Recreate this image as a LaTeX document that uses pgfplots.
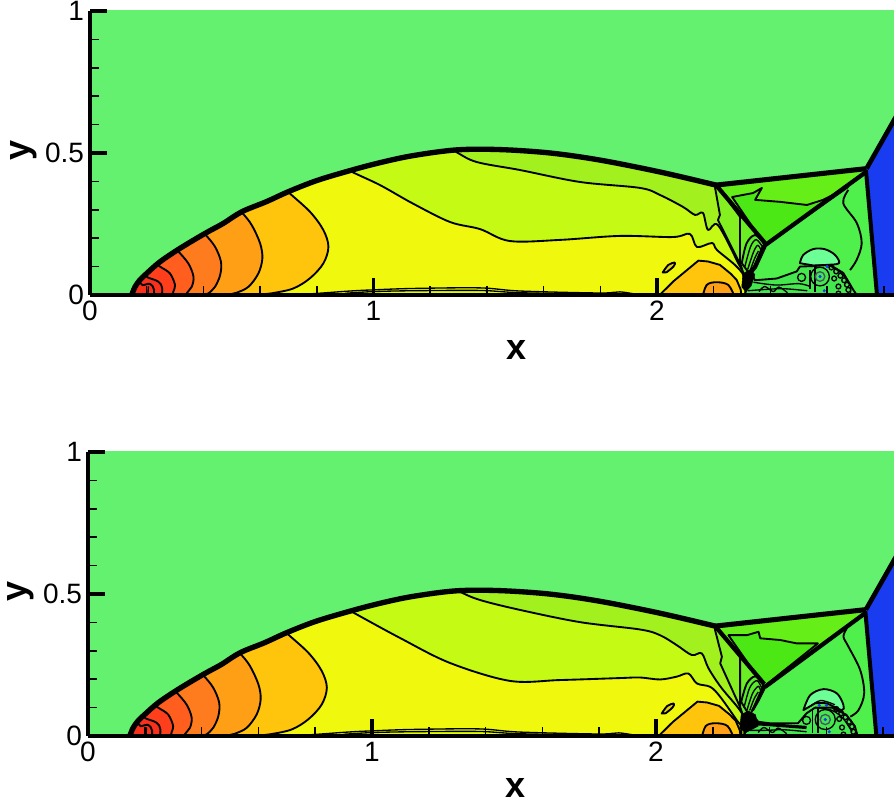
\documentclass[border=0pt]{standalone}
\usepackage{fontspec}
\setmainfont{Liberation Sans}
\usepackage{pgfplots}
\pgfplotsset{compat=1.18}
\definecolor{bgg}{HTML}{64F170}
\definecolor{blu}{HTML}{1A3CF0}
\definecolor{lowg}{HTML}{50F04C}
\definecolor{lowr}{HTML}{5CF246}
\definecolor{ca}{HTML}{A2F01E}
\definecolor{cb}{HTML}{C4FA14}
\definecolor{cc}{HTML}{F0F80E}
\definecolor{r1}{HTML}{FFC40C}
\definecolor{r2}{HTML}{FF9F16}
\definecolor{r3}{HTML}{FF7C1E}
\definecolor{r4}{HTML}{FF5E1E}
\definecolor{r5}{HTML}{FF3E1C}
\definecolor{r6}{HTML}{F8301C}
\definecolor{fa}{HTML}{84F022}
\definecolor{fb}{HTML}{6CEE24}
\definecolor{fc}{HTML}{58EA2A}
\definecolor{tu}{HTML}{66EE18}
\definecolor{tl}{HTML}{4CE816}
\definecolor{lobe}{HTML}{6CFF96}
\definecolor{mush}{HTML}{44E84E}
\definecolor{lens}{HTML}{E0D010}
\pgfplotsset{
  panel/.style={
    scale only axis, anchor=south west, axis on top,
    xmin=0, ymin=0, ymax=1,
    axis lines=left, axis line style={-, line width=2.6pt},
    tick align=inside,
    xtick={0,1,2}, xticklabels={0,1,2},
    ytick={0,0.5,1}, yticklabels={0,0.5,1},
    minor xtick={0.2,0.4,0.6,0.8,1.2,1.4,1.6,1.8,2.2,2.4,2.6,2.8},
    minor ytick={0.1,0.2,0.3,0.4,0.6,0.7,0.8,0.9},
    major tick length=13pt, minor tick length=7pt,
    every major tick/.style={black,line width=2.6pt},
    every minor tick/.style={black,line width=1.1pt},
    tick label style={font=\fontsize{21}{25}\selectfont, /pgf/number format/assume math mode=true},
    xticklabel style={yshift=-1pt}, yticklabel style={xshift=-1pt},
    xlabel={x}, ylabel={y},
    every axis x label/.style={at={(axis description cs:0.53,-0.195)},anchor=center,inner sep=0pt,font=\fontsize{27}{27}\selectfont\bfseries},
    every axis y label/.style={at={(axis description cs:-0.083,0.51)},rotate=90,anchor=center,inner sep=0pt,font=\fontsize{27}{27}\selectfont\bfseries},
  },
  ct/.style={draw=black,line width=1.4pt,line join=round},
  sm/.style={smooth,tension=0.55},
  tn/.style={draw=black,line width=1pt,line join=round,no marks},
  ring/.style={only marks,mark=o,mark options={draw=black,line width=1pt}},
}
\newcommand\base{
  \addplot[fill=lowg,draw=none] coordinates {(0,-0.02)(3,-0.02)(3,1.1)(0,1.1)} -- cycle;
  \addplot[fill=ca,draw=none] coordinates {(0,-0.01)(0,0.6)(2.208,0.6)(2.208,0.387)(2.381,0.183)(2.31,0.05)(2.31,-0.01)} -- cycle;
}
\newcommand\common{
  \addplot[fill=cb!35!cc,draw=none] coordinates {(0.741,0)(0.917,0.014)(0.998,0.018)(1.139,0.023)(1.376,0.025)(1.517,0.014)(1.799,0.007)(1.869,0.011)(1.94,0)} -- cycle;
  \addplot[tn,sm] coordinates {(0.6,0)(0.741,0.002)(0.917,0.014)(0.998,0.018)(1.139,0.023)(1.376,0.025)(1.517,0.014)(1.799,0.007)(1.869,0.011)(1.94,0)};
  \addplot[tn,sm] coordinates {(0.9,0.006)(1.0,0.012)(1.139,0.015)(1.376,0.016)(1.517,0.008)(1.8,0.003)};
  \addplot[fill=lens,ct,sm] coordinates {(2.020,0.079)(2.040,0.106)(2.063,0.114)(2.058,0.100)(2.034,0.080)} -- cycle;
  \addplot[fill=r1,ct] coordinates {(1.999,-0.01)(2.06,0.05)(2.146,0.121)(2.18,0.118)(2.222,0.106)(2.26,0.075)(2.281,0.053)(2.295,0.02)(2.299,-0.01)} -- cycle;
  \addplot[fill=r2,ct,sm] coordinates {(2.160,-0.01)(2.175,0.035)(2.210,0.045)(2.252,0.035)(2.275,-0.01)} -- cycle;
  \addplot[fill=r1,ct,sm] coordinates {(0.4,-0.03)(0,0.1)(0.4,0.6)(0.67,0.393)(0.700,0.362)(0.776,0.293)(0.823,0.229)(0.841,0.170)(0.823,0.111)(0.776,0.059)(0.717,0.023)(0.641,0.006)(0.576,-0.002)(0.5,-0.03)} -- cycle;
  \addplot[fill=r2,ct,sm] coordinates {(0.3,-0.03)(0,0.1)(0.3,0.5)(0.5,0.32)(0.535,0.291)(0.570,0.247)(0.600,0.182)(0.608,0.129)(0.594,0.076)(0.559,0.029)(0.517,0.008)(0.482,-0.002)(0.45,-0.03)} -- cycle;
  \addplot[fill=r3,ct,sm] coordinates {(0.2,-0.03)(0,0.1)(0.2,0.4)(0.38,0.24)(0.406,0.214)(0.441,0.170)(0.462,0.117)(0.459,0.070)(0.441,0.029)(0.418,0.006)(0.400,-0.002)(0.39,-0.03)} -- cycle;
  \addplot[fill=r4,ct,sm] coordinates {(0.15,-0.03)(0,0.1)(0.15,0.3)(0.29,0.175)(0.312,0.153)(0.347,0.111)(0.365,0.065)(0.359,0.029)(0.341,0.006)(0.33,-0.03)} -- cycle;
  \addplot[fill=r5,ct,sm] coordinates {(0.12,-0.03)(0.05,0.1)(0.12,0.22)(0.23,0.115)(0.247,0.100)(0.282,0.076)(0.300,0.035)(0.294,0.012)(0.288,-0.03)} -- cycle;
  \addplot[fill=r6,ct,sm] coordinates {(0.12,-0.03)(0.08,0.06)(0.12,0.14)(0.195,0.07)(0.206,0.061)(0.241,0.047)(0.255,0.023)(0.249,-0.03)} -- cycle;
  \addplot[fill=r6,ct,sm] coordinates {(0.13,-0.03)(0.1,0.04)(0.13,0.09)(0.18,0.04)(0.188,0.035)(0.212,0.039)(0.226,0.018)(0.221,-0.03)} -- cycle;
  \addplot[tn] coordinates {(0.206,0.03)(0.204,0)};
  \addplot[fill=bgg,draw=none] coordinates {(-0.05,-0.05)(0.135,-0.05)(0.147,0.003)(0.159,0.029)(0.176,0.053)(0.200,0.076)(0.247,0.117)(0.317,0.164)(0.406,0.217)(0.470,0.252)(0.535,0.293)(0.623,0.329)(0.700,0.364)(0.800,0.403)(0.917,0.438)(1.023,0.466)(1.141,0.491)(1.294,0.511)(1.446,0.512)(1.623,0.500)(1.799,0.475)(2.011,0.433)(2.208,0.387)(2.739,0.445)(2.84,0.622)(3,0.622)(3,1.1)(-0.05,1.1)} -- cycle;
  \addplot[fill=blu,draw=none] coordinates {(2.737,0.44)(2.85,0.64)(2.85,-0.01)(2.776,-0.01)} -- cycle;
}
\newcommand\shocks{
  \addplot[black,line width=4pt,line join=round,sm] coordinates {(0.147,0)(0.159,0.029)(0.176,0.053)(0.200,0.076)(0.247,0.117)(0.317,0.164)(0.406,0.217)(0.470,0.252)(0.535,0.293)(0.623,0.329)(0.700,0.364)(0.800,0.403)(0.917,0.438)(1.023,0.466)(1.141,0.491)(1.294,0.511)(1.446,0.512)(1.623,0.500)(1.799,0.475)(2.011,0.433)(2.208,0.387)};
  \addplot[black,line width=3.8pt,line join=round] coordinates {(2.208,0.387)(2.739,0.445)};
  \addplot[black,line width=3.5pt] coordinates {(2.739,0.445)(2.85,0.64)};
  \addplot[black,line width=3pt] coordinates {(2.737,0.44)(2.776,0)};
  \addplot[black,line width=3.2pt] coordinates {(2.208,0.387)(2.381,0.183)};
}
\begin{document}
\begin{tikzpicture}[x=1pt,y=1pt]
\path[use as bounding box] (0,0) rectangle (670.5,603);
%% TOP PANEL
\begin{axis}[panel, at={(67.5pt,381.75pt)}, width=603pt, height=213pt, xmax=2.836]
\base
\addplot[fill=cb,ct,sm] coordinates {(0.5,-0.05)(0,0.2)(0.5,0.8)(1.2,0.56)(1.291,0.504)(1.365,0.468)(1.517,0.440)(1.728,0.398)(1.940,0.377)(2.011,0.352)(2.092,0.310)(2.134,0.282)(2.162,0.289)(2.180,0.229)(2.215,0.246)(2.286,0.113)(2.310,0.060)(2.31,-0.05)} -- cycle;
\addplot[fill=cc,ct,sm] coordinates {(0.4,-0.05)(0,0.2)(0.4,0.8)(0.8,0.5)(0.917,0.437)(1.023,0.387)(1.139,0.322)(1.270,0.257)(1.376,0.232)(1.481,0.190)(1.658,0.194)(1.869,0.208)(2.056,0.204)(2.116,0.215)(2.141,0.169)(2.194,0.183)(2.212,0.158)(2.282,0.099)(2.310,0.053)(2.31,-0.05)} -- cycle;
\addplot[fill=fa,ct] coordinates {(2.208,0.387)(2.205,0.377)(2.222,0.282)(2.215,0.264)(2.286,0.123)(2.31,0.07)(2.381,0.183)} -- cycle;
\addplot[fill=fb,ct] coordinates {(2.252,0.330)(2.293,0.275)(2.293,0.113)(2.31,0.06)(2.381,0.183)} -- cycle;
\addplot[fill=fc,ct,sm] coordinates {(2.299,0.112)(2.316,0.182)(2.346,0.211)(2.377,0.182)(2.37,0.165)(2.33,0.07)} -- cycle;
\addplot[tn,sm] coordinates {(2.31,0.10)(2.33,0.17)(2.35,0.195)(2.372,0.17)};
\addplot[tn,sm] coordinates {(2.32,0.09)(2.34,0.15)(2.355,0.175)(2.366,0.16)};
\addplot[tn,sm] coordinates {(2.33,0.09)(2.345,0.13)(2.358,0.155)};
\common
\addplot[fill=tu,draw=none] coordinates {(2.208,0.387)(2.737,0.447)(2.381,0.175)} -- cycle;
\addplot[fill=tl,ct] coordinates {(2.265,0.345)(2.339,0.359)(2.370,0.377)(2.346,0.335)(2.434,0.328)(2.529,0.317)(2.586,0.335)(2.674,0.380)(2.381,0.175)} -- cycle;
\addplot[ct,sm] coordinates {(2.675,0.370)(2.657,0.323)(2.705,0.253)(2.722,0.182)(2.704,0.123)(2.681,0.088)};
\addplot[fill=lobe,ct,sm] coordinates {(2.504,0.112)(2.516,0.141)(2.552,0.162)(2.593,0.161)(2.628,0.141)(2.642,0.112)(2.599,0.106)(2.552,0.104)} -- cycle;
\addplot[fill=mush,ct] coordinates {(2.332,0.085)(2.345,0.052)(2.422,0.058)(2.493,0.083)(2.504,0.100)(2.552,0.102)(2.610,0.106)(2.657,0.078)(2.693,0.017)(2.705,0)(2.31,0)} -- cycle;
\addplot[tn,sm] coordinates {(2.545,0.10)(2.60,0.105)(2.646,0.08)(2.682,0.035)(2.68,0)};
\addplot[tn,sm] coordinates {(2.32,0.015)(2.39,0.02)(2.45,0.022)(2.53,0.015)};
\addplot[tn,sm] coordinates {(2.34,0.045)(2.42,0.035)(2.50,0.04)(2.54,0.03)};
\addplot[tn] coordinates {(2.54,0.087)(2.54,0.02)};
\addplot[tn] coordinates {(2.557,0.098)(2.557,0.01)};
\addplot[tn,sm] coordinates {(2.36,0.012)(2.38,0.03)(2.41,0.012)(2.43,0.028)(2.46,0.008)};
\addplot[ring,mark size=7pt] coordinates {(2.575,0.065)};
\addplot[ring,mark size=3.6pt,mark options={draw=black!70!cyan,line width=1pt}] coordinates {(2.575,0.065)};
\addplot[only marks,mark=*,mark size=1pt,blu] coordinates {(2.575,0.065)(2.59,0.015)(2.60,0.1)};
\addplot[ring,mark size=3pt] coordinates {(2.510,0.062)};
\addplot[ring,mark size=1.8pt,mark options={draw=black,line width=1pt}] coordinates {(2.615,0.097)(2.632,0.083)(2.647,0.068)(2.66,0.052)(2.67,0.036)(2.675,0.018)(2.64,0.03)(2.625,0.058)(2.64,0.005)};
\addplot[black,line width=3.2pt] coordinates {(2.737,0.433)(2.381,0.175)(2.346,0.099)(2.328,0.077)(2.31,0.053)};
\addplot[fill=black,draw=black] coordinates {(2.299,0.028)(2.303,0.075)(2.33,0.09)(2.345,0.072)(2.332,0.032)(2.314,0.012)} -- cycle;
\shocks
\end{axis}
%% BOTTOM PANEL
\begin{axis}[panel, at={(66pt,51pt)}, width=604.5pt, height=213pt, xmax=2.838,
  every axis x label/.style={at={(axis description cs:0.53,-0.183)},anchor=center,inner sep=0pt,font=\fontsize{27}{27}\selectfont\bfseries}]
\base
\addplot[fill=cb,ct,sm] coordinates {(0.5,-0.05)(0,0.2)(0.5,0.8)(1.2,0.565)(1.303,0.511)(1.38,0.479)(1.521,0.444)(1.732,0.401)(1.944,0.375)(2.014,0.355)(2.073,0.320)(2.126,0.285)(2.161,0.291)(2.185,0.238)(2.23,0.17)(2.296,0.09)(2.31,0.05)(2.31,-0.05)} -- cycle;
\addplot[fill=cc,ct,sm] coordinates {(0.4,-0.05)(0,0.2)(0.4,0.8)(0.8,0.51)(0.930,0.437)(1.099,0.345)(1.275,0.257)(1.486,0.194)(1.662,0.197)(1.873,0.204)(1.944,0.206)(2.014,0.199)(2.073,0.209)(2.114,0.220)(2.144,0.185)(2.191,0.173)(2.226,0.138)(2.284,0.056)(2.30,0.03)(2.30,-0.05)} -- cycle;
\addplot[fill=fa,ct] coordinates {(2.208,0.387)(2.208,0.373)(2.232,0.279)(2.226,0.256)(2.290,0.115)(2.31,0.07)(2.381,0.183)} -- cycle;
\addplot[fill=fb,ct] coordinates {(2.27,0.31)(2.296,0.291)(2.296,0.103)(2.31,0.06)(2.381,0.183)} -- cycle;
\addplot[fill=fc,ct,sm] coordinates {(2.30,0.12)(2.32,0.185)(2.35,0.21)(2.377,0.183)(2.37,0.16)(2.33,0.07)} -- cycle;
\addplot[tn,sm] coordinates {(2.31,0.10)(2.33,0.17)(2.355,0.195)(2.372,0.17)};
\addplot[tn,sm] coordinates {(2.32,0.09)(2.34,0.15)(2.36,0.175)(2.368,0.16)};
\addplot[tn,sm] coordinates {(2.33,0.09)(2.345,0.13)(2.36,0.155)};
\common
\addplot[fill=tu,draw=none] coordinates {(2.208,0.387)(2.737,0.447)(2.381,0.175)} -- cycle;
\addplot[fill=tl,ct] coordinates {(2.255,0.355)(2.320,0.355)(2.361,0.367)(2.367,0.344)(2.437,0.338)(2.496,0.326)(2.570,0.326)(2.381,0.175)} -- cycle;
\addplot[ct,sm] coordinates {(2.672,0.379)(2.660,0.350)(2.678,0.314)(2.719,0.232)(2.733,0.150)(2.713,0.091)(2.684,0.068)};
\addplot[fill=lobe,ct,sm] coordinates {(2.519,0.091)(2.543,0.144)(2.590,0.165)(2.637,0.150)(2.660,0.109)(2.654,0.091)(2.60,0.115)(2.56,0.115)} -- cycle;
\addplot[tn,sm] coordinates {(2.545,0.105)(2.58,0.125)(2.63,0.11)};
\addplot[fill=mush,ct] coordinates {(2.335,0.08)(2.36,0.05)(2.40,0.045)(2.50,0.045)(2.53,0.08)(2.56,0.10)(2.62,0.10)(2.67,0.075)(2.70,0.035)(2.71,0)(2.31,0)} -- cycle;
\addplot[black,line width=2.4pt] coordinates {(2.33,0.045)(2.40,0.04)(2.53,0.03)};
\addplot[tn,sm] coordinates {(2.56,0.10)(2.62,0.09)(2.66,0.06)(2.69,0.015)};
\addplot[tn,sm] coordinates {(2.32,0.02)(2.39,0.02)(2.45,0.022)(2.53,0.015)};
\addplot[tn,sm] coordinates {(2.36,0.012)(2.38,0.03)(2.41,0.012)(2.43,0.028)(2.46,0.008)};
\addplot[tn] coordinates {(2.55,0.09)(2.55,0.01)};
\addplot[tn] coordinates {(2.57,0.10)(2.57,0.01)};
\addplot[ring,mark size=7.5pt] coordinates {(2.596,0.058)};
\addplot[ring,mark size=3.8pt,mark options={draw=black!70!cyan,line width=1pt}] coordinates {(2.596,0.058)};
\addplot[only marks,mark=*,mark size=1pt,blu] coordinates {(2.596,0.058)(2.61,0.015)(2.60,0.108)(2.575,0.108)};
\addplot[ring,mark size=3pt] coordinates {(2.53,0.055)};
\addplot[ring,mark size=1.8pt,mark options={draw=black,line width=1pt}] coordinates {(2.635,0.095)(2.652,0.08)(2.667,0.066)(2.68,0.05)(2.69,0.033)(2.695,0.015)(2.655,0.03)(2.645,0.06)(2.66,0.005)};
\addplot[black,line width=3.2pt] coordinates {(2.737,0.433)(2.384,0.173)};
\addplot[fill=black,draw=black] coordinates {(2.295,0.028)(2.300,0.075)(2.325,0.088)(2.35,0.075)(2.36,0.035)(2.316,0.012)} -- cycle;
\addplot[black,line width=2pt] coordinates {(2.34,0.09)(2.36,0.125)(2.384,0.173)};
\shocks
\end{axis}
\end{tikzpicture}
\end{document}
